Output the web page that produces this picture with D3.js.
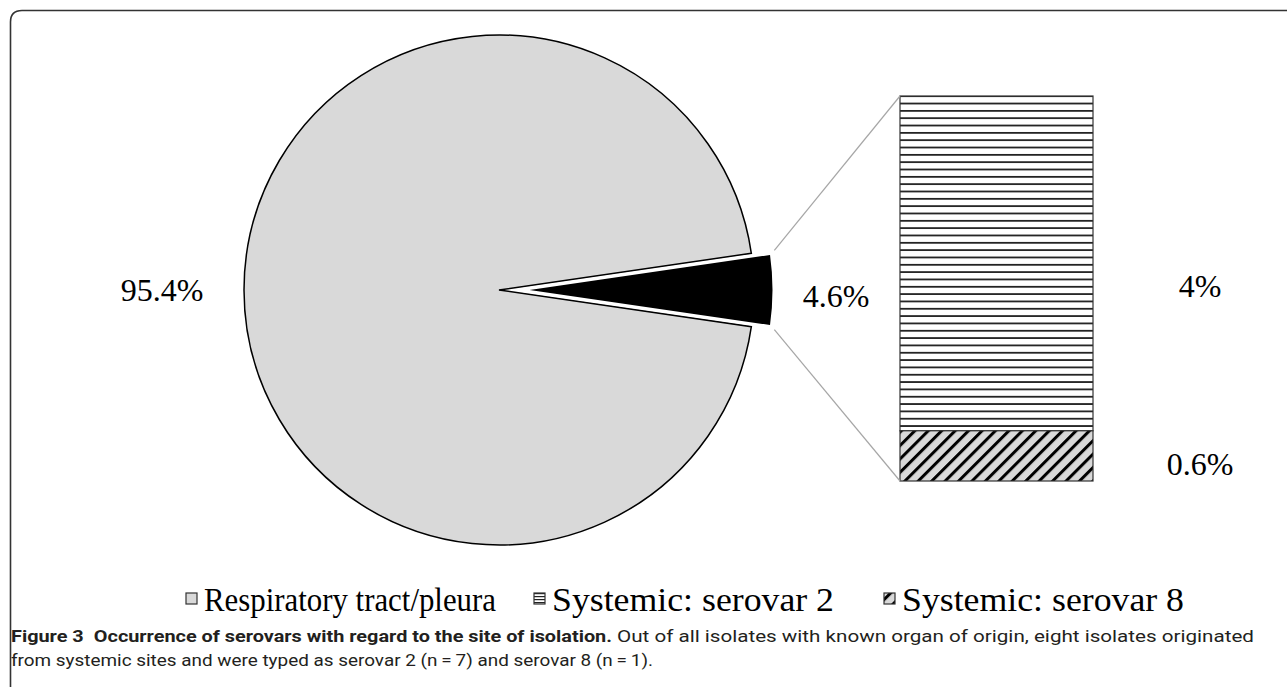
<!DOCTYPE html>
<html lang="en">
<head>
<meta charset="utf-8">
<title>Figure 3</title>
<style>
  body { margin: 0; background: #fff; }
  svg { display: block; }
  .pct { font-family: "Liberation Serif", "Times New Roman", serif; font-size: 32px; fill: #000; }
  .leg { font-family: "Liberation Serif", "Times New Roman", serif; font-size: 33px; fill: #000; }
  .cap { font-family: "Liberation Sans Narrow", "Roboto", "Liberation Sans", sans-serif; font-size: 17px; fill: #231f20; }
</style>
</head>
<body>
<div id="chart"></div>
<script src="https://d3js.org/d3.v7.min.js"></script>
<script>
// pie: site of isolation
var siteNames = ["Respiratory tract/pleura", "Systemic"];
var siteValues = [95.4, 4.6];
var siteLabels = ["95.4%", "4.6%"];
// bar of pie: systemic split by serovar
var serovarNames = ["Systemic: serovar 2", "Systemic: serovar 8"];
var serovarValues = [4, 0.6];
var serovarLabels = ["4%", "0.6%"];

var width = 1287, height = 687;
var cx = 499, cy = 290, r = 255, explode = 20, labelR = 337;

var svg = d3.select("#chart").append("svg")
    .attr("width", width)
    .attr("height", height);

var defs = svg.append("defs");
var hpat = defs.append("pattern")
    .attr("id", "hstripe")
    .attr("patternUnits", "userSpaceOnUse")
    .attr("width", 8).attr("height", 7.33);
hpat.append("rect").attr("width", 8).attr("height", 7.33).attr("fill", "#fff");
hpat.append("rect").attr("y", 0).attr("width", 8).attr("height", 1.8).attr("fill", "#222");

var lpat = defs.append("pattern")
    .attr("id", "hstripeSmall")
    .attr("patternUnits", "userSpaceOnUse")
    .attr("width", 4).attr("height", 3);
lpat.append("rect").attr("width", 4).attr("height", 3).attr("fill", "#fff");
lpat.append("rect").attr("width", 4).attr("height", 1.2).attr("fill", "#222");

var dpat = defs.append("pattern")
    .attr("id", "dstripe")
    .attr("patternUnits", "userSpaceOnUse")
    .attr("width", 9.5).attr("height", 9.5)
    .attr("patternTransform", "rotate(45)");
dpat.append("rect").attr("width", 9.5).attr("height", 9.5).attr("fill", "#d9d9d9");
dpat.append("rect").attr("width", 3).attr("height", 9.5).attr("fill", "#000");

// frame
svg.append("path")
    .attr("d", "M10.5," + (height + 5) + " L10.5,22 Q10.5,10.5 22,10.5 L" + (width + 5) + ",10.5")
    .attr("fill", "none")
    .attr("stroke", "#333")
    .attr("stroke-width", 1.6);

var total = d3.sum(siteValues);
var theta = 2 * Math.PI * siteValues[1] / total;
var start = Math.PI / 2 - theta / 2;

var pie = d3.pie()
    .sort(null)
    .startAngle(start)
    .endAngle(start + 2 * Math.PI);
// systemic slice first so it sits at 3 o'clock
var arcs = pie([siteValues[1], siteValues[0]]);
var arc = d3.arc().innerRadius(0).outerRadius(r);

var g = svg.append("g").attr("transform", "translate(" + cx + "," + cy + ")");

g.append("path")
    .attr("d", arc(arcs[1]))
    .attr("fill", "#d9d9d9")
    .attr("stroke", "#000")
    .attr("stroke-width", 1.5);

g.append("path")
    .attr("d", arc(arcs[0]))
    .attr("transform", "translate(" + explode + ",0)")
    .attr("fill", "#000")
    .attr("stroke", "#fff")
    .attr("stroke-width", 3)
    .attr("stroke-linejoin", "round");

// labels
function labelPos(a) {
  var m = (a.startAngle + a.endAngle) / 2;
  return [labelR * Math.sin(m), -labelR * Math.cos(m)];
}
g.append("text").attr("class", "pct")
    .attr("x", labelPos(arcs[1])[0]).attr("y", labelPos(arcs[1])[1])
    .attr("text-anchor", "middle").attr("dy", "0.35em")
    .text(siteLabels[0]);
g.append("text").attr("class", "pct")
    .attr("x", labelPos(arcs[0])[0]).attr("y", labelPos(arcs[0])[1] + 6)
    .attr("text-anchor", "middle").attr("dy", "0.35em")
    .text(siteLabels[1]);

// stacked bar
var barX = 900, barW = 193;
var y = d3.scaleLinear().domain([0, d3.sum(serovarValues)]).range([481, 96]);
var stack = [];
var acc = d3.sum(serovarValues);
serovarValues.forEach(function(v, i) {
  stack.push({ top: acc, bottom: acc - v, i: i });
  acc -= v;
});
var fills = ["url(#hstripe)", "url(#dstripe)"];
var labelShift = [22, 8];

svg.selectAll("rect.seg")
  .data(stack)
  .enter().append("rect")
    .attr("class", "seg")
    .attr("x", barX)
    .attr("y", function(d) { return y(d.top); })
    .attr("width", barW)
    .attr("height", function(d) { return y(d.bottom) - y(d.top); })
    .attr("fill", function(d) { return fills[d.i]; })
    .attr("stroke", "#333")
    .attr("stroke-width", 1.2);

svg.selectAll("text.barlab")
  .data(stack)
  .enter().append("text")
    .attr("class", "pct")
    .attr("x", 1200)
    .attr("y", function(d) { return (y(d.top) + y(d.bottom)) / 2 + labelShift[d.i]; })
    .attr("text-anchor", "middle")
    .attr("dy", "0.35em")
    .text(function(d) { return serovarLabels[d.i]; });

// connector lines from exploded slice corners to bar
var a0 = arcs[0].startAngle, a1 = arcs[0].endAngle;
var p0 = [cx + explode + r * Math.sin(a0), cy - r * Math.cos(a0)];
var p1 = [cx + explode + r * Math.sin(a1), cy - r * Math.cos(a1)];
svg.append("line")
    .attr("x1", p0[0] + 3).attr("y1", p0[1] - 3)
    .attr("x2", barX).attr("y2", y.range()[1])
    .attr("stroke", "#a6a6a6").attr("stroke-width", 1.2);
svg.append("line")
    .attr("x1", p1[0] + 3).attr("y1", p1[1] + 3)
    .attr("x2", barX).attr("y2", y.range()[0])
    .attr("stroke", "#a6a6a6").attr("stroke-width", 1.2);

// legend
var legendX = [186, 534, 884];
var legendW = [292, 282, 282];
var legendFills = ["#d9d9d9", "url(#hstripeSmall)", "url(#dstripe)"];
var legendNames = [siteNames[0], serovarNames[0], serovarNames[1]];
var lg = svg.selectAll("g.leg")
  .data(legendNames)
  .enter().append("g")
    .attr("transform", function(d, i) { return "translate(" + legendX[i] + ",611)"; });
lg.append("rect")
    .attr("x", 0).attr("y", -18)
    .attr("width", 11).attr("height", 11)
    .attr("fill", function(d, i) { return legendFills[i]; })
    .attr("stroke", "#333")
    .attr("stroke-width", 1.2);
lg.append("text")
    .attr("class", "leg")
    .attr("x", 18).attr("y", 0)
    .attr("textLength", function(d, i) { return legendW[i]; })
    .attr("lengthAdjust", "spacingAndGlyphs")
    .text(function(d) { return d; });

// caption
svg.append("text").attr("class", "cap").attr("x", 11).attr("y", 642)
    .attr("font-weight", "bold")
    .attr("textLength", 601).attr("lengthAdjust", "spacingAndGlyphs")
    .text("Figure 3\u2002Occurrence of serovars with regard to the site of isolation.");
svg.append("text").attr("class", "cap").attr("x", 617).attr("y", 642)
    .attr("textLength", 637).attr("lengthAdjust", "spacingAndGlyphs")
    .text("Out of all isolates with known organ of origin, eight isolates originated");
svg.append("text").attr("class", "cap").attr("x", 11).attr("y", 666)
    .attr("textLength", 642).attr("lengthAdjust", "spacingAndGlyphs")
    .text("from systemic sites and were typed as serovar 2 (n\u2009=\u20097) and serovar 8 (n\u2009=\u20091).");
</script>
</body>
</html>
